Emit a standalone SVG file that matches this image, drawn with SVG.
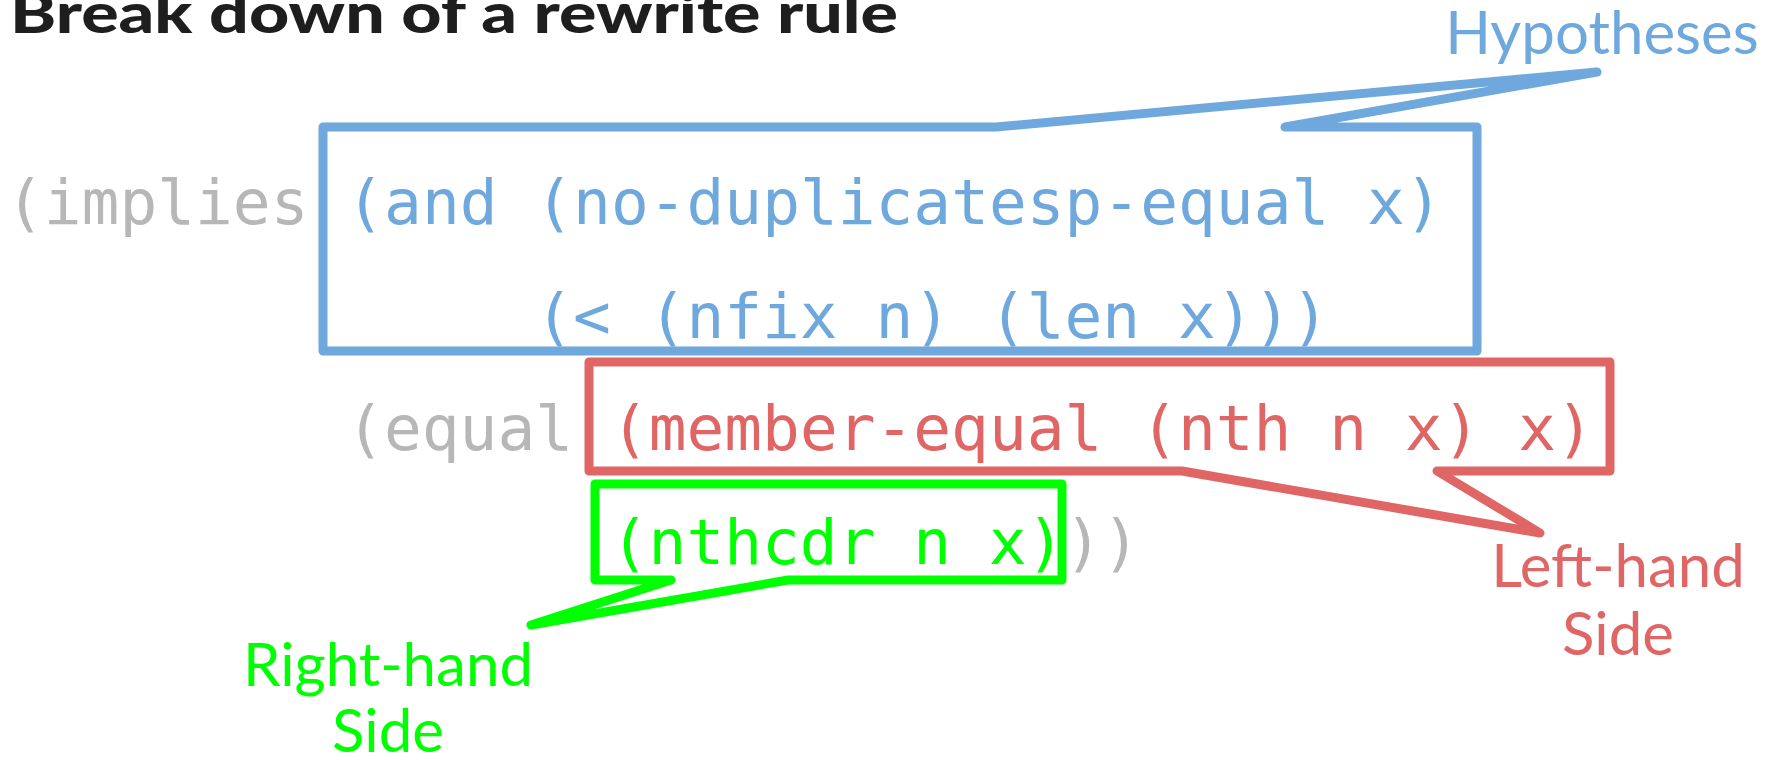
<svg xmlns="http://www.w3.org/2000/svg" width="1782" height="760" viewBox="0 0 1782 760">
  <style>
    .title { font-family: "Lato", "Liberation Sans", sans-serif; font-weight: 900; font-size: 56px; fill: #1e1e1e; }
    .code { font-family: "DejaVu Sans Mono", "Liberation Mono", monospace; font-size: 62.8px; white-space: pre; }
    .label { font-family: "Lato", "Liberation Sans", sans-serif; font-size: 60px; text-anchor: middle; }
    .gray { fill: #b7b7b7; }
    .blue { fill: #6fa8dc; }
    .red { fill: #e06666; }
    .green { fill: #00ff00; }
    .callout { fill: none; stroke-width: 9; stroke-linejoin: round; stroke-linecap: round; }
  </style>

  <text class="title" x="10" y="33" textLength="888" lengthAdjust="spacingAndGlyphs">Break down of a rewrite rule</text>

  <!-- the rewrite rule, one s-expression line per row -->
  <g id="rule" class="code">
    <text x="6" y="224"><tspan class="gray">(implies </tspan><tspan class="blue">(and (no-duplicatesp-equal x)</tspan></text>
    <text x="535.2" y="338" class="blue">(&lt; (nfix n) (len x)))</text>
    <text x="346.2" y="450"><tspan class="gray">(equal </tspan><tspan class="red">(member-equal (nth n x) x)</tspan></text>
    <text x="610.8" y="564"><tspan class="green">(nthcdr n x)</tspan><tspan class="gray">))</tspan></text>
  </g>

  <!-- callout boxes: outline plus pointer tail drawn as one path -->
  <g id="connectors">
    <path id="hyp-outline" class="callout" stroke="#6fa8dc" d="M1285,127 L1477,127 L1477,351 L323,351 L323,127 L996,127 L1597,72 Z"/>
    <path id="lhs-outline" class="callout" stroke="#e06666" d="M589,362 L1610,362 L1610,471 L1437,471 L1540,533 L1182,471 L589,471 Z"/>
    <path id="rhs-outline" class="callout" stroke="#00ff00" d="M595,484 L1062,484 L1062,580 L788,580 L531,625 L671,580 L595,580 Z"/>
  </g>

  <g id="hypotheses">
    <text class="label blue" x="1602" y="54">Hypotheses</text>
  </g>

  <g id="left-hand-side">
    <text class="label red" x="1618" y="587">Left-hand</text>
    <text class="label red" x="1618" y="655">Side</text>
  </g>

  <g id="right-hand-side">
    <text class="label green" x="388" y="686">Right-hand</text>
    <text class="label green" x="388" y="752">Side</text>
  </g>
</svg>
